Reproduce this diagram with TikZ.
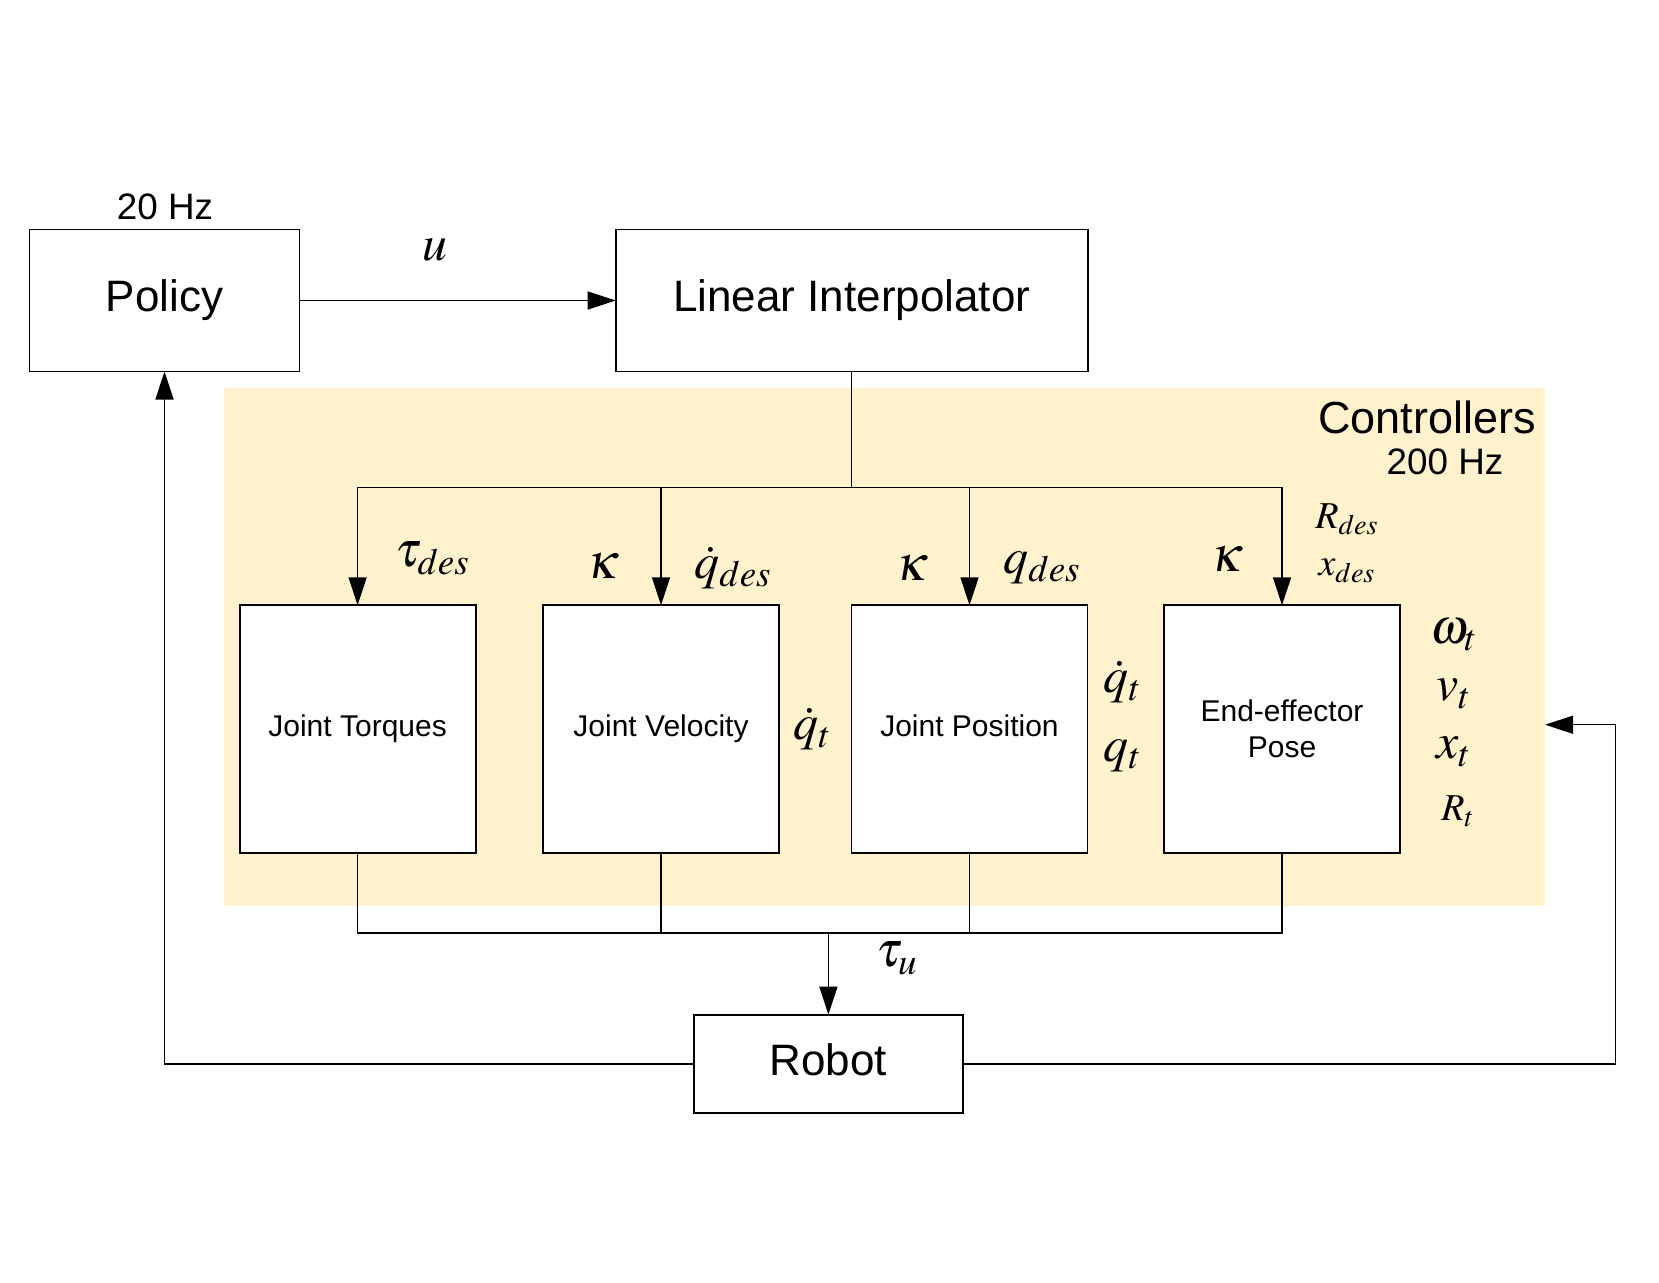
\documentclass[tikz,border=0pt]{standalone}
\usepackage{mathptmx}
\usepackage[no-math]{fontspec}
\setmainfont{Liberation Sans}
\usetikzlibrary{arrows.meta}
\definecolor{ctrlfill}{HTML}{FFF2CC}

\begin{document}
\begin{tikzpicture}[
    x=0.5pt, y=-0.5pt,
    >={Triangle[length=14pt,width=9pt]},
    block/.style={rectangle, draw, fill=white, line width=0.9pt, inner sep=0pt, outer sep=0pt, align=center},
    big/.style={font=\fontsize{22}{26}\selectfont},
    hz/.style={font=\fontsize{18.4}{22}\selectfont},
    small/.style={font=\fontsize{15}{18}\selectfont},
    wire/.style={line width=0.75pt},
    sym/.style={font=\fontsize{25}{29}\selectfont, inner sep=0pt},
    symsmall/.style={font=\fontsize{19}{22}\selectfont, inner sep=0pt}
]
\useasboundingbox (0,0) rectangle (1659,1282);

% controllers area
\node[fill=ctrlfill, inner sep=0pt, minimum width=660.2pt, minimum height=258.65pt] (ctrl) at (884.5,647) {};
\node[big, anchor=east, font=\fontsize{22.5}{26}\selectfont] (ctrllabel) at (1543,417) {Controllers};
\node[hz] (ctrlhz) at (1445,462) {200 Hz};

% blocks
\node[block, big, minimum width=135pt, minimum height=71pt] (policy) at (164.5,300.5) {Policy};
\node[hz] (policyhz) at (165,207) {20 Hz};
\node[block, big, minimum width=236pt, minimum height=71pt] (interp) at (851.7,300.5) {Linear Interpolator};
\node[block, small, minimum width=118pt, minimum height=123.75pt] (torques) at (357.6,729) {Joint Torques};
\node[block, small, minimum width=118pt, minimum height=123.75pt] (velocity) at (661,729) {Joint Velocity};
\node[block, small, minimum width=118pt, minimum height=123.75pt] (position) at (969.5,729) {Joint Position\vphantom{q}};
\node[block, small, minimum width=118pt, minimum height=123.75pt] (pose) at (1282,729) {End-effector\\Pose};
\node[block, big, minimum width=134.5pt, minimum height=49.2pt] (robot) at (828.4,1063.8) {Robot\vphantom{y}};

\coordinate (split) at (851.7,487.7);
\coordinate (merge) at (828.4,933.2);
\coordinate (fb) at (1615.6,724.7);

% connectors
\draw[wire, ->] (policy.east) -- (interp.west);
\draw[wire] (interp.south) -- (split);
\foreach \blk in {torques, velocity, position, pose}
    \draw[wire, ->] (split) -| (\blk.north);
\foreach \blk in {torques, velocity, position, pose}
    \draw[wire] (\blk.south) |- (merge);
\draw[wire, ->] (merge) -- (robot.north);
\draw[wire, ->] (robot.west) -| (policy.south);
\draw[wire, ->] (robot.east) -| (fb) -- (fb -| ctrl.east);

% signal labels
\node[sym] (ulab) at (435,250) {$u$};
\node[sym] (taudes) at (432.7,558.6) {$\tau_{des}$};
\node[sym] (kvel) at (603,566) {$\kappa$};
\node[sym] (qdotdes) at (733,568) {$\dot{q}_{des}$};
\node[sym] (kpos) at (912,568) {$\kappa$};
\node[sym] (qdes) at (1042,568) {$q_{des}$};
\node[sym] (kpose) at (1227,558.6) {$\kappa$};
\node[symsmall] (rdes) at (1347,519.5) {$R_{des}$};
\node[symsmall] (xdes) at (1347,571) {$x_{des}$};
\node[sym] (qdotvel) at (812.5,729) {$\dot{q}_t$};
\node[sym] (qdotpos) at (1122.6,682.4) {$\dot{q}_t$};
\node[sym] (qpos) at (1122.6,755.4) {$q_t$};
\node[sym] (omega) at (1453.7,634.8) {$\omega_t$};
\node[sym] (vlin) at (1453.7,694) {$v_t$};
\node[sym] (xcur) at (1453.7,752) {$x_t$};
\node[symsmall] (rcur) at (1458,811.5) {$R_t$};
\node[sym] (tauu) at (897,958.5) {$\tau_u$};
\end{tikzpicture}
\end{document}
